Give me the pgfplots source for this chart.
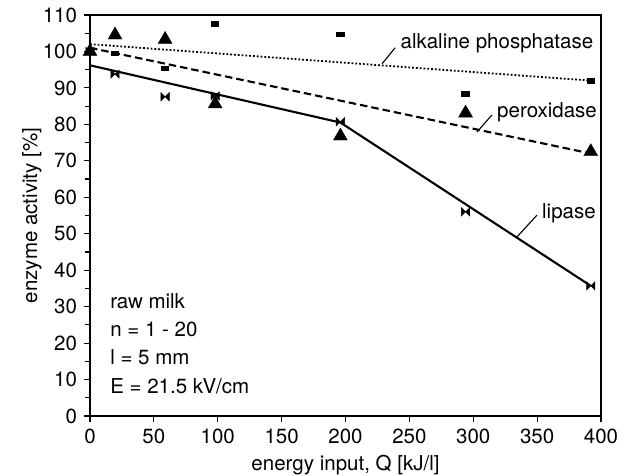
\documentclass[border=0pt]{standalone}
\usepackage{fontspec}
\setmainfont{TeX Gyre Heros}
\usepackage{pgfplots}
\pgfplotsset{compat=1.18}
\pgfdeclareplotmark{bowtie}{%
  \pgfpathmoveto{\pgfqpoint{-\pgfplotmarksize}{\pgfplotmarksize}}%
  \pgfpathlineto{\pgfqpoint{-\pgfplotmarksize}{-\pgfplotmarksize}}%
  \pgfpathlineto{\pgfqpoint{\pgfplotmarksize}{\pgfplotmarksize}}%
  \pgfpathlineto{\pgfqpoint{\pgfplotmarksize}{-\pgfplotmarksize}}%
  \pgfpathclose\pgfusepathqfillstroke}
\pgfdeclareplotmark{hbar}{%
  \pgfpathrectangle{\pgfqpoint{-4.2pt}{-2.7pt}}{\pgfqpoint{8.4pt}{5.4pt}}%
  \pgfusepathqfill}
\begin{document}
\fontsize{20.5}{24}\selectfont
\begin{tikzpicture}
\path[use as bounding box] (-90pt,-60pt) rectangle (544pt,416pt);
\begin{axis}[at={(0,0)},anchor=south west, scale only axis,
  width=511pt, height=401pt,
  xmin=0, xmax=400, ymin=0, ymax=110,
  xtick={0,50,...,400}, ytick={0,10,...,110}, minor ytick={5,15,...,105},
  tick align=outside, xtick pos=left, ytick pos=left,
  major tick length=6pt, minor tick length=5pt,
  axis line style={line width=1.4pt}, tick style={line width=1.1pt, black},
  /pgf/number format/assume math mode=true,
  xlabel={energy input, Q [kJ/l]}, ylabel={enzyme activity [\%]},
  xlabel style={at={(axis description cs:0.5,-0.135)}, anchor=base},
  ylabel style={at={(axis description cs:-0.1135,0.5)}, anchor=center},
  clip=false,
]
% fitted lines
\addplot[black, line width=2.1pt] coordinates {(0,96.2) (196,80.5) (392,35.7)};
\addplot[black, line width=2.1pt, dash pattern=on 7.5pt off 4pt] coordinates {(0,101) (392,72)};
\addplot[black, line width=1.8pt, dash pattern=on 1.8pt off 2pt] coordinates {(0,102) (392,92)};
% data: lipase
\addplot[only marks, mark=bowtie, mark size=4.2pt, black] coordinates {
(0,100) (19.6,93.8) (58.8,87.6) (98,87.8) (196,80.7) (294,56) (392,35.7)};
% peroxidase
\addplot[only marks, mark=triangle*, mark size=8pt, black] coordinates {
(0,100) (19.6,104.5) (58.8,103.3) (98,85.6) (196,76.8) (294,83.1) (392,72.5)};
% alkaline phosphatase
\addplot[only marks, mark=hbar, black] coordinates {
(0,100) (19.6,99.5) (58.8,95.4) (98,107.5) (196,104.6) (294,88.3) (392,91.9)};
% labels
\draw[black, line width=1.1pt] (axis cs:228.6,96.6) -- (axis cs:238.8,101);
\node[anchor=west, inner sep=0pt] at (axis cs:243,102.3) {alkaline phosphatase};
\draw[black, line width=1.1pt] (axis cs:302.9,77.9) -- (axis cs:314.7,82.6);
\node[anchor=west, inner sep=0pt] at (axis cs:318.6,83.4) {peroxidase};
\draw[black, line width=1.1pt] (axis cs:334.2,49.1) -- (axis cs:349.9,55.1);
\node[anchor=west, inner sep=0pt] at (axis cs:353.8,55.7) {lipase};
\node[anchor=base west, inner sep=0pt] at (axis cs:15.7,29.4) {raw milk};
\node[anchor=base west, inner sep=0pt] at (axis cs:15.7,21.7) {n = 1 - 20};
\node[anchor=base west, inner sep=0pt] at (axis cs:15.7,14.0) {l = 5 mm};
\node[anchor=base west, inner sep=0pt] at (axis cs:15.7,6.3) {E = 21.5 kV/cm};
\end{axis}
\end{tikzpicture}
\end{document}
